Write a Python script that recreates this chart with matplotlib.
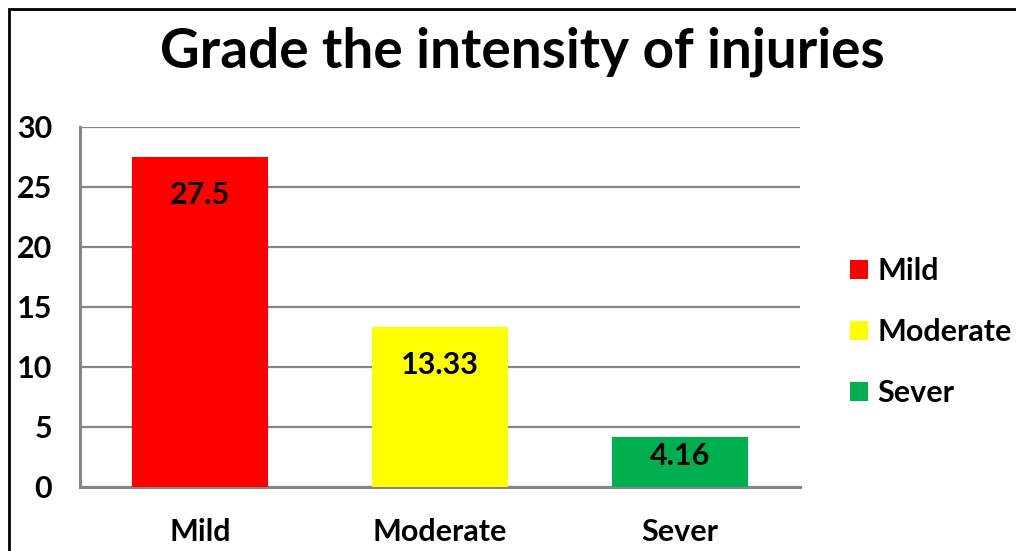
import matplotlib
matplotlib.use("Agg")
import matplotlib.pyplot as plt
from matplotlib.patches import Rectangle, Patch

# Chart data
categories = ["Mild", "Moderate", "Sever"]
values = [27.5, 13.33, 4.16]
value_labels = ["27.5", "13.33", "4.16"]
colors = ["#FF0000", "#FFFF00", "#00B050"]
y_ticks = [0, 5, 10, 15, 20, 25, 30]

plt.rcParams["font.family"] = ["Lato", "DejaVu Sans"]
plt.rcParams["font.weight"] = "bold"

fig = plt.figure(figsize=(10.16, 5.51), dpi=100)
ax = fig.add_axes([80 / 1016, 1 - 487 / 551, 720 / 1016, 360 / 551])

grid_color = "#868686"
x = range(len(categories))
ax.bar(x, values, width=0.57, color=colors, zorder=3)

# Data labels inside the bars
for i, (v, lab) in enumerate(zip(values, value_labels)):
    ax.text(i, max(v - 3.2, v * 0.62), lab, ha="center", va="center",
            fontsize=22, fontweight="bold", color="black", zorder=4)

ax.set_xlim(-0.5, len(categories) - 0.5)
ax.set_ylim(0, 30)
ax.set_yticks(y_ticks)
ax.set_xticks(list(x))
ax.set_xticklabels(categories)
ax.tick_params(axis="both", length=0, labelsize=22)
ax.tick_params(axis="x", pad=22)
ax.tick_params(axis="y", pad=20)
for lbl in ax.get_xticklabels() + ax.get_yticklabels():
    lbl.set_fontweight("bold")

ax.yaxis.grid(True, color=grid_color, linewidth=1.6, zorder=0)
ax.set_axisbelow(True)
for side in ["top", "right"]:
    ax.spines[side].set_visible(False)
for side in ["left", "bottom"]:
    ax.spines[side].set_color(grid_color)
    ax.spines[side].set_linewidth(2.2)

fig.text(522 / 1016, 1 - 52 / 551, "Grade the intensity of injuries",
         ha="center", va="center", fontsize=39.5, fontweight="bold")

handles = [Patch(facecolor=c, edgecolor="none") for c in colors]
fig.legend(handles, categories, loc="center left",
           bbox_to_anchor=(850 / 1016, 1 - 332 / 551), frameon=False,
           fontsize=22, handlelength=0.6, handleheight=0.6,
           handletextpad=0.3, labelspacing=1.08, borderaxespad=0,
           borderpad=0)

# Chart border (cut off on the right and bottom)
fig.patches.append(Rectangle((9 / 1016, -0.5), 2, 1 - 9 / 551 + 0.5,
                             transform=fig.transFigure, fill=False,
                             edgecolor="black", linewidth=2, clip_on=False))

fig.savefig("out.png", dpi=100)
